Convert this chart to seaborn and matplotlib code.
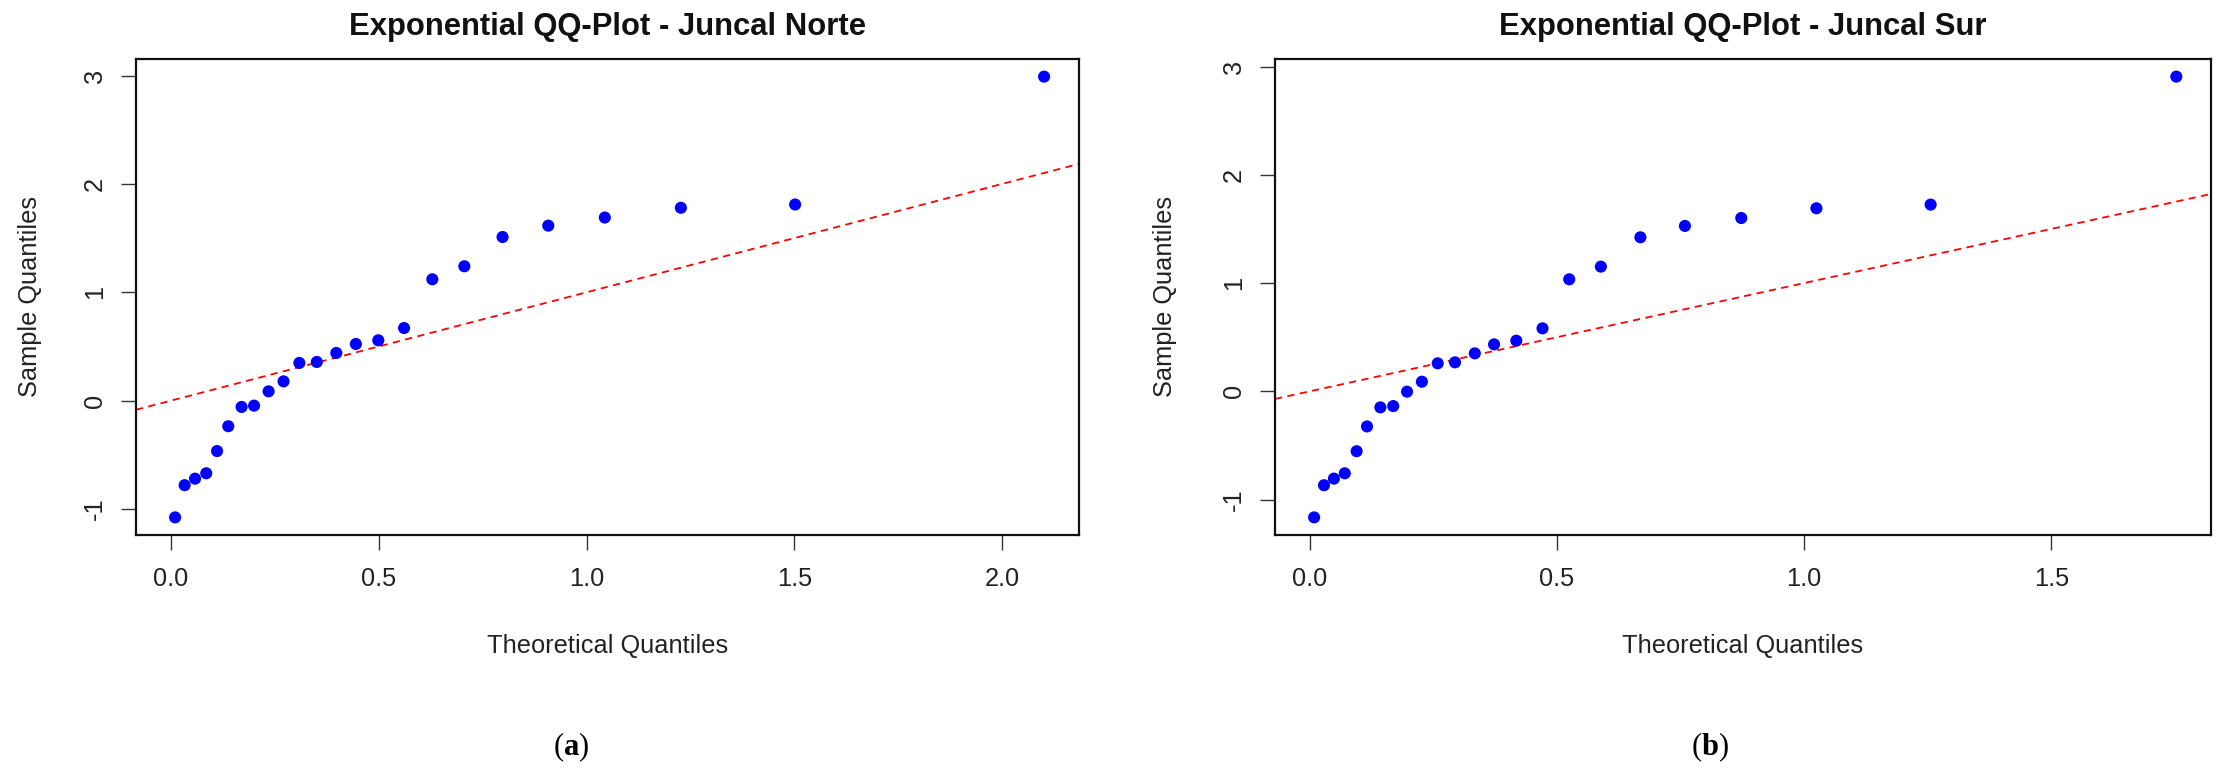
import numpy as np
import pandas as pd
import matplotlib
matplotlib.use("Agg")
import matplotlib.pyplot as plt
import seaborn as sns

# ---- data ----
norte_theoretical = [0.010, 0.033, 0.058, 0.085, 0.111, 0.138, 0.170, 0.200, 0.235, 0.271,
                     0.309, 0.351, 0.398, 0.445, 0.499, 0.561, 0.629, 0.706, 0.798, 0.908,
                     1.044, 1.227, 1.502, 2.101]
norte_sample = [-1.077, -0.78, -0.72, -0.67, -0.465, -0.236, -0.058, -0.046, 0.086, 0.178,
                0.348, 0.357, 0.44, 0.523, 0.557, 0.67, 1.12, 1.24, 1.51, 1.615,
                1.69, 1.78, 1.81, 2.99]
sur_theoretical = [0.009, 0.029, 0.049, 0.071, 0.095, 0.116, 0.143, 0.169, 0.197, 0.227,
                   0.259, 0.294, 0.334, 0.373, 0.418, 0.471, 0.525, 0.589, 0.669, 0.759,
                   0.873, 1.025, 1.256, 1.753]
sur_sample = [-1.164, -0.867, -0.806, -0.757, -0.553, -0.324, -0.148, -0.136, -0.003, 0.089,
              0.259, 0.268, 0.351, 0.434, 0.468, 0.582, 1.035, 1.152, 1.423, 1.528,
              1.601, 1.691, 1.725, 2.907]
titles = ["Exponential QQ-Plot - Juncal Norte", "Exponential QQ-Plot - Juncal Sur"]
panel_labels = ["a", "b"]
norte_xticks = [0.0, 0.5, 1.0, 1.5, 2.0]
sur_xticks = [0.0, 0.5, 1.0, 1.5]
yticks = [-1, 0, 1, 2, 3]
ref_intercept = 0.0
ref_slope = 1.0

sns.set_theme(style="ticks")
plt.rcParams["font.family"] = ["Liberation Sans", "DejaVu Sans"]
plt.rcParams["axes.unicode_minus"] = False
plt.rcParams["mathtext.fontset"] = "custom"
plt.rcParams["mathtext.rm"] = "Liberation Serif"
plt.rcParams["mathtext.bf"] = "Liberation Serif:bold"

W, H = 2227, 782
fig = plt.figure(figsize=(W / 100, H / 100), dpi=100)

# pixel geometry of the two plot boxes (left, right, top, bottom)
boxes = [(136, 1079, 59, 535), (1275, 2211, 59, 535)]
ylab_x = [30, 1165]
label_x = [571, 1710]

datasets = [
    pd.DataFrame({"Theoretical": norte_theoretical, "Sample": norte_sample}),
    pd.DataFrame({"Theoretical": sur_theoretical, "Sample": sur_sample}),
]
xticks_list = [norte_xticks, sur_xticks]

base = 18.3  # pt
for i, df in enumerate(datasets):
    l, r, t, b = boxes[i]
    ax = fig.add_axes([l / W, 1 - b / H, (r - l) / W, (b - t) / H])
    sns.scatterplot(data=df, x="Theoretical", y="Sample", ax=ax, color="#0000FF",
                    s=76, edgecolor="none", linewidth=0, zorder=3)
    ax.margins(x=0.04, y=0.04)
    ax.axline((0, ref_intercept), slope=ref_slope, color="#FF0000", lw=1.3,
              linestyle=(0, (4, 3)), zorder=2)
    ax.set_xticks(xticks_list[i])
    ax.set_xticklabels([f"{v:.1f}" for v in xticks_list[i]])
    ax.set_yticks(yticks)
    ax.set_yticklabels([str(v) for v in yticks], rotation=90, va="center")
    ax.tick_params(axis="both", direction="out", length=11, width=1.0, color="#333333",
                   labelsize=base, labelcolor="#222222")
    ax.tick_params(axis="x", pad=12)
    ax.tick_params(axis="y", pad=10)
    for sp in ax.spines.values():
        sp.set_visible(True)
        sp.set_linewidth(1.6)
        sp.set_color("#111111")
    ax.grid(False)
    ax.set_title(titles[i], fontsize=22.3, fontweight="bold", y=1 + 32 / (b - t),
                 va="center", pad=0, color="#111111")
    ax.set_xlabel("Theoretical Quantiles", fontsize=base, color="#222222", va="center")
    ax.xaxis.set_label_coords(0.5, -(646 - b) / (b - t))
    ax.set_ylabel("Sample Quantiles", fontsize=base, color="#222222", va="center")
    ax.yaxis.set_label_coords((ylab_x[i] - l) / (r - l), 0.5)
    fig.text(label_x[i] / W, 1 - 747 / H, r"($\mathbf{" + panel_labels[i] + r"}$)",
             ha="center", va="center", fontsize=22, family="Liberation Serif",
             color="black")

fig.savefig("out.png", dpi=100, facecolor="white")
